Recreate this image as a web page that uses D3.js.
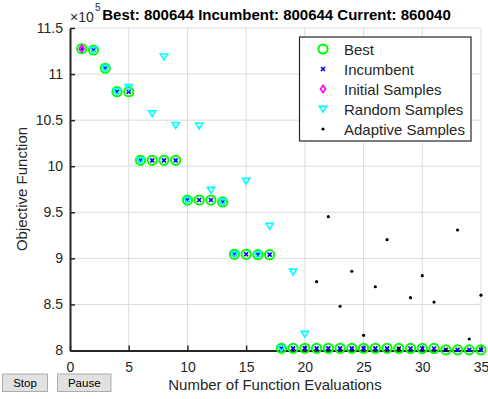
<!DOCTYPE html>
<html>
<head>
<meta charset="utf-8">
<script src="https://cdn.jsdelivr.net/npm/d3@7"></script>
<style>
  body { margin: 0; background: #fff; }
  svg { font-family: "Liberation Sans", Arial, sans-serif; }
</style>
</head>
<body>
<div id="chart"></div>
<script>
// values (objective values in units of 1e5)
const bestX = [1,2,3,4,5,6,7,8,9,10,11,12,13,14,15,16,17,18,19,20,21,22,23,24,25,26,27,28,29,30,31,32,33,34,35]
const bestY = [11.275,11.261,11.063,10.809,10.809,10.064,10.064,10.064,10.064,9.633,9.633,9.633,9.612,9.044,9.044,9.040,9.040,
               8.0235,8.0235,8.0235,8.0235,8.0235,8.0235,8.0235,8.0235,8.0235,8.0235,8.0220,8.0220,8.0220,8.0220,
               8.00644,8.00644,8.00644,8.00644]
const incumbentY = [11.275,11.261,11.063,10.809,10.809,10.064,10.064,10.064,10.064,9.633,9.633,9.633,9.612,9.044,9.044,9.040,9.040,
               8.0235,8.0235,8.0235,8.0235,8.0235,8.0235,8.0235,8.0235,8.0235,8.0235,8.0220,8.0220,8.0220,8.0220,
               8.00644,8.00644,8.00644,8.00644]
const initialX = [1]
const initialY = [11.275]
const randomX = [2,3,4,5,6,7,8,9,10,11,12,13,14,15,16,17,18,19,20]
const randomY = [11.261,11.063,10.809,10.857,10.064,10.574,11.189,10.447,9.633,10.44,9.742,9.612,9.044,9.84,9.040,9.351,8.0235,8.855,8.179]
const adaptiveX = [21,22,23,24,25,26,27,28,29,30,31,32,33,34,35]
const adaptiveY = [8.747,9.452,8.48,8.86,8.165,8.692,9.203,8.022,8.573,8.812,8.526,8.00644,9.308,8.125,8.6004]
const xTicks = [0,5,10,15,20,25,30,35]
const yTicks = [8,8.5,9,9.5,10,10.5,11,11.5]
const legendLabels = ["Best","Incumbent","Initial Samples","Random Samples","Adaptive Samples"]

let svg = d3.select("#chart").append("svg").attr("width", 488).attr("height", 399)
let textCol = "#262626"

let x = d3.scaleLinear().domain([0, 35]).range([70, 481])
let y = d3.scaleLinear().domain([8, 11.5]).range([350.5, 28])

//grid lines
svg.append("g").selectAll("line").data(xTicks.slice(1)).enter().append("line")
   .attr("x1", d => x(d)).attr("x2", d => x(d)).attr("y1", y(8)).attr("y2", y(11.5))
   .attr("stroke", "#dcdcdc").attr("stroke-width", 1)
svg.append("g").selectAll("line").data(yTicks.slice(1)).enter().append("line")
   .attr("x1", x(0)).attr("x2", x(35)).attr("y1", d => y(d)).attr("y2", d => y(d))
   .attr("stroke", "#dcdcdc").attr("stroke-width", 1)

//axes
let xAxis = svg.append("g").attr("transform", `translate(0,${y(8)})`)
   .call(d3.axisBottom(x).tickValues(xTicks).tickFormat(d => d).tickSizeInner(-5).tickSizeOuter(0).tickPadding(12))
let yAxis = svg.append("g").attr("transform", `translate(${x(0)},0)`)
   .call(d3.axisLeft(y).tickValues(yTicks).tickFormat(d => d).tickSizeInner(-5).tickSizeOuter(0).tickPadding(7))
for (let ax of [xAxis, yAxis]) {
  ax.select(".domain").attr("stroke", textCol).attr("stroke-width", 2)
  ax.selectAll(".tick line").attr("stroke", textCol).attr("stroke-width", 1.5)
  ax.selectAll("text").attr("font-size", 14).attr("fill", textCol).attr("font-family", "Liberation Sans, Arial, sans-serif")
}

//exponent label
svg.append("text").attr("x", 70).attr("y", 22).attr("font-size", 14).attr("fill", textCol).text("\u00d710")
svg.append("text").attr("x", 95).attr("y", 11).attr("font-size", 10).attr("fill", textCol).text("5")

//title and axis labels
svg.append("text").attr("x", 276.5).attr("y", 20).attr("text-anchor", "middle")
   .attr("font-size", 15).attr("font-weight", "bold").attr("fill", "#000")
   .text("Best: 800644 Incumbent: 800644 Current: 860040")
svg.append("text").attr("x", 275).attr("y", 390).attr("text-anchor", "middle")
   .attr("font-size", 15).attr("fill", textCol).text("Number of Function Evaluations")
svg.append("text").attr("transform", "translate(27,189) rotate(-90)").attr("text-anchor", "middle")
   .attr("font-size", 15).attr("fill", textCol).text("Objective Function")

//marker painters
function circleMark(g, cx, cy) {
  g.append("circle").attr("cx", cx).attr("cy", cy).attr("r", 4.6)
   .attr("fill", "none").attr("stroke", "#00ff00").attr("stroke-width", 2)
}
function crossMark(g, cx, cy) {
  let s = 2
  g.append("path").attr("d", `M${cx-s},${cy-s}L${cx+s},${cy+s}M${cx-s},${cy+s}L${cx+s},${cy-s}`)
   .attr("stroke", "#0000ff").attr("stroke-width", 1.6)
}
function diamondMark(g, cx, cy) {
  g.append("path").attr("d", `M${cx},${cy-3.5}L${cx+2.5},${cy}L${cx},${cy+3.5}L${cx-2.5},${cy}Z`)
   .attr("fill", "none").attr("stroke", "#ff00ff").attr("stroke-width", 1.6)
}
function triMark(g, cx, cy) {
  g.append("path").attr("d", `M${cx-3.6},${cy-2.6}L${cx+3.6},${cy-2.6}L${cx},${cy+3.2}Z`)
   .attr("fill", "none").attr("stroke", "#00ffff").attr("stroke-width", 1.6)
}
function dotMark(g, cx, cy) {
  g.append("circle").attr("cx", cx).attr("cy", cy).attr("r", 1.6).attr("fill", "#000")
}

let marks = svg.append("g")
bestX.forEach((d, i) => circleMark(marks, x(d), y(bestY[i])))
bestX.forEach((d, i) => crossMark(marks, x(d), y(incumbentY[i])))
initialX.forEach((d, i) => diamondMark(marks, x(d), y(initialY[i])))
randomX.forEach((d, i) => triMark(marks, x(d), y(randomY[i])))
adaptiveX.forEach((d, i) => dotMark(marks, x(d), y(adaptiveY[i])))

//legend
let lg = svg.append("g")
lg.append("rect").attr("x", 299.5).attr("y", 37).attr("width", 171.5).attr("height", 104)
  .attr("fill", "#fff").attr("stroke", textCol).attr("stroke-width", 1.2)
let painters = [circleMark, crossMark, diamondMark, triMark, dotMark]
legendLabels.forEach((lab, i) => {
  let cy = 49 + i * 20
  painters[i](lg, 323, cy)
  lg.append("text").attr("x", 344).attr("y", cy + 5.5).attr("font-size", 15).attr("fill", textCol).text(lab)
})

//buttons
let buttons = [{label: "Stop", x: 2.5, w: 45}, {label: "Pause", x: 57.5, w: 53.5}]
buttons.forEach(b => {
  svg.append("rect").attr("x", b.x).attr("y", 374).attr("width", b.w).attr("height", 17.5)
     .attr("fill", "#e1e1e1").attr("stroke", "#adadad").attr("stroke-width", 1)
  svg.append("text").attr("x", b.x + b.w / 2).attr("y", 387).attr("text-anchor", "middle")
     .attr("font-size", 11.5).attr("fill", "#000").text(b.label)
})
</script>
</body>
</html>
